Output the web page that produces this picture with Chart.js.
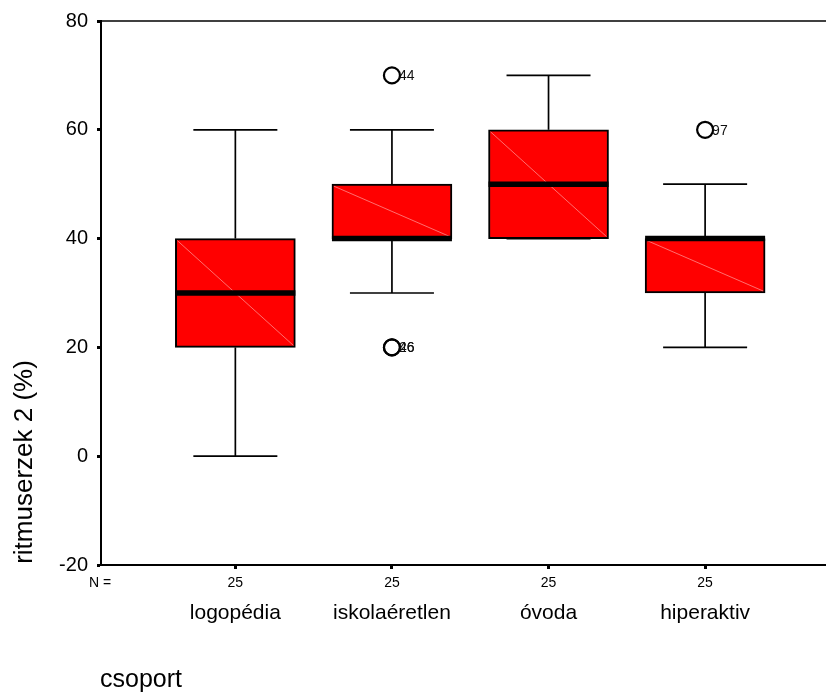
<!DOCTYPE html>
<html>
<head>
<meta charset="utf-8">
<title>ritmuserzek 2</title>
<script src="https://cdn.jsdelivr.net/npm/chart.js@4/dist/chart.umd.min.js"></script>
<style>
  html, body { margin: 0; padding: 0; background: #fff; }
  canvas { display: block; }
</style>
</head>
<body>
<canvas id="boxChart" width="826" height="695"></canvas>
<script>
"use strict";

const FONT = "'Liberation Sans', Arial, Helvetica, sans-serif";

const categories = ["logopédia", "iskolaéretlen", "óvoda", "hiperaktiv"];
const counts = [25, 25, 25, 25];
const whiskerLow = [0, 30, 40, 20];
const q1 = [20, 40, 40, 30];
const medians = [30, 40, 50, 40];
const q3 = [40, 50, 60, 40];
const whiskerHigh = [60, 60, 70, 50];

// outliers: group index, value, case number
const outlierGroup = [1, 1, 1, 3];
const outlierValues = [70, 20, 20, 60];
const outlierCases = ["44", "26", "46", "97"];

const yTicks = [-20, 0, 20, 40, 60, 80];
const yTitle = "ritmuserzek 2 (%)";
const xTitle = "csoport";

function line(ctx, x1, y1, x2, y2) {
  ctx.beginPath();
  ctx.moveTo(x1, y1);
  ctx.lineTo(x2, y2);
  ctx.stroke();
}

const boxPlotPlugin = {
  id: "boxPlot",
  beforeDatasetsDraw(chart) {
    const { ctx, scales: { x, y } } = chart;
    ctx.save();
    ctx.strokeStyle = "#000";
    ctx.lineWidth = 1.7;
    categories.forEach((_, i) => {
      const cx = x.getPixelForValue(i);
      line(ctx, cx, y.getPixelForValue(whiskerHigh[i]), cx, y.getPixelForValue(q3[i]));
      line(ctx, cx, y.getPixelForValue(q1[i]), cx, y.getPixelForValue(whiskerLow[i]));
      line(ctx, cx - 42, y.getPixelForValue(whiskerHigh[i]), cx + 42, y.getPixelForValue(whiskerHigh[i]));
      line(ctx, cx - 42, y.getPixelForValue(whiskerLow[i]), cx + 42, y.getPixelForValue(whiskerLow[i]));
    });
    ctx.restore();
  },
  afterDatasetsDraw(chart) {
    const { ctx, chartArea, scales: { x, y } } = chart;
    ctx.save();
    categories.forEach((_, i) => {
      const cx = x.getPixelForValue(i);
      const top = y.getPixelForValue(q3[i]);
      const bottom = y.getPixelForValue(q1[i]);
      // faint diagonal across the box fill
      ctx.strokeStyle = "rgba(255,175,175,0.9)";
      ctx.lineWidth = 0.7;
      line(ctx, cx - 58, top + 2, cx + 58, bottom - 2);
      ctx.strokeStyle = "#000";
      ctx.lineWidth = 5.5;
      const my = y.getPixelForValue(medians[i]);
      line(ctx, cx - 60, my, cx + 60, my);
    });

    // frame line along the top
    ctx.strokeStyle = "#000";
    ctx.lineWidth = 1.6;
    line(ctx, chartArea.left, chartArea.top, chartArea.right, chartArea.top);

    // case numbers beside outliers
    ctx.fillStyle = "#111";
    ctx.font = `14px ${FONT}`;
    ctx.textAlign = "left";
    ctx.textBaseline = "middle";
    outlierCases.forEach((label, i) => {
      ctx.fillText(label, x.getPixelForValue(outlierGroup[i]) + 7, y.getPixelForValue(outlierValues[i]) + 1);
    });
    ctx.restore();
  },
  afterDraw(chart) {
    const { ctx, chartArea, scales: { x } } = chart;
    ctx.save();
    ctx.fillStyle = "#000";
    ctx.textBaseline = "middle";

    ctx.font = `14px ${FONT}`;
    ctx.textAlign = "left";
    ctx.fillText("N =", chartArea.left - 12, chartArea.bottom + 18);
    ctx.textAlign = "center";
    counts.forEach((n, i) => {
      ctx.fillText(String(n), x.getPixelForValue(i), chartArea.bottom + 18);
    });

    ctx.font = `21px ${FONT}`;
    categories.forEach((name, i) => {
      ctx.fillText(name, x.getPixelForValue(i), chartArea.bottom + 48);
    });

    ctx.font = `25px ${FONT}`;
    ctx.textAlign = "left";
    ctx.textBaseline = "alphabetic";
    ctx.fillText(xTitle, chartArea.left - 1, chart.height - 8);

    ctx.font = `26px ${FONT}`;
    ctx.textAlign = "center";
    ctx.textBaseline = "middle";
    ctx.translate(25, chartArea.bottom - 103);
    ctx.rotate(-Math.PI / 2);
    ctx.fillText(yTitle, 0, 0);
    ctx.restore();
  }
};

const boxData = categories.map((_, i) => ({ x: i, y: [q1[i], q3[i]] }));
const outlierData = outlierGroup.map((g, i) => ({ x: g, y: outlierValues[i] }));

new Chart(document.getElementById("boxChart"), {
  type: "bar",
  data: {
    datasets: [
      {
        label: "box",
        data: boxData,
        backgroundColor: "#ff0000",
        borderColor: "#000",
        borderWidth: 2,
        borderSkipped: false,
        barThickness: 120
      },
      {
        type: "scatter",
        label: "outliers",
        data: outlierData,
        pointStyle: "circle",
        pointRadius: 8,
        pointBorderWidth: 2.2,
        pointBorderColor: "#000",
        pointBackgroundColor: "rgba(255,255,255,0)"
      }
    ]
  },
  options: {
    responsive: false,
    animation: false,
    events: [],
    layout: {
      autoPadding: false,
      padding: { top: 17, right: 0, bottom: 0, left: 0 }
    },
    plugins: {
      legend: { display: false },
      tooltip: { enabled: false }
    },
    scales: {
      x: {
        type: "linear",
        position: "bottom",
        min: -0.858,
        max: 3.772,
        offset: false,
        afterBuildTicks(scale) {
          scale.ticks = categories.map((_, i) => ({ value: i }));
        },
        afterFit(scale) {
          scale.height = 130;
        },
        ticks: { display: false },
        grid: {
          display: true,
          offset: false,
          drawOnChartArea: false,
          drawTicks: true,
          tickLength: 4,
          tickWidth: 3,
          tickColor: "#000"
        },
        border: { display: true, color: "#000", width: 2 }
      },
      y: {
        type: "linear",
        position: "left",
        min: -20,
        max: 80,
        afterBuildTicks(scale) {
          scale.ticks = yTicks.map((v) => ({ value: v }));
        },
        afterFit(scale) {
          scale.width = 101;
        },
        ticks: {
          color: "#000",
          padding: 9,
          font: { family: FONT, size: 20 }
        },
        grid: {
          display: true,
          drawOnChartArea: false,
          drawTicks: true,
          tickLength: 4,
          tickWidth: 3,
          tickColor: "#000"
        },
        border: { display: true, color: "#000", width: 2 }
      }
    }
  },
  plugins: [boxPlotPlugin]
});
</script>
</body>
</html>
